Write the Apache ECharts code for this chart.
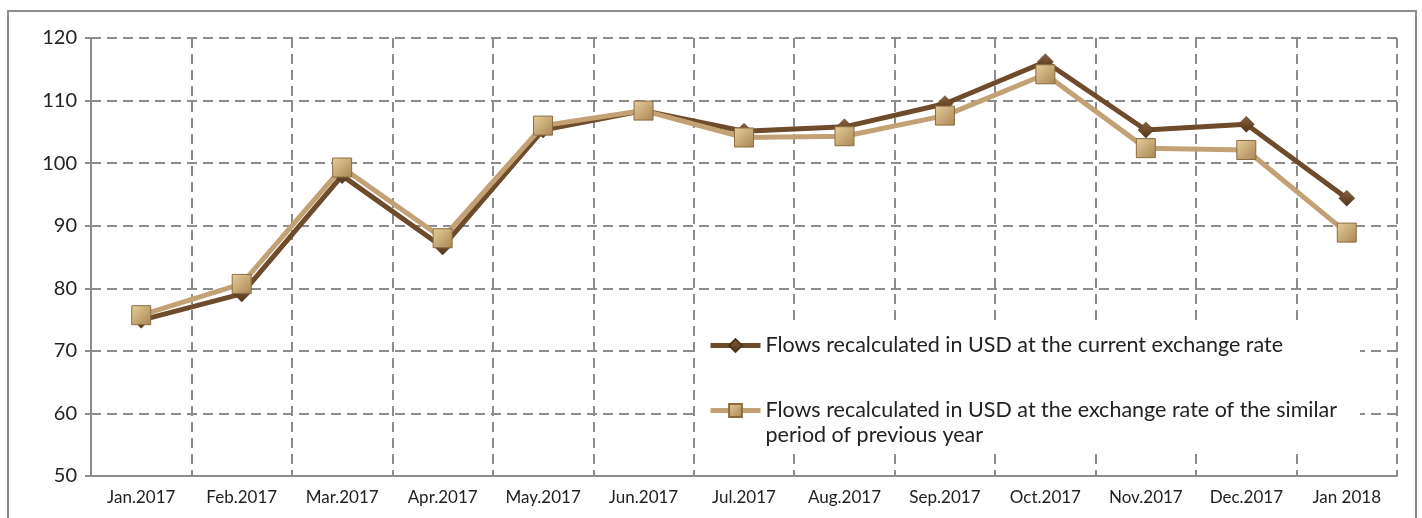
<!DOCTYPE html>
<html><head><meta charset="utf-8">
<script src="https://cdn.jsdelivr.net/npm/echarts@6/dist/echarts.min.js"></script>
<style>html,body{margin:0;padding:0;background:#fff}#c{width:1422px;height:518px}
#frame{position:absolute;left:7px;top:10px;width:1410px;height:520px;border:2px solid #8c8c8c;box-sizing:border-box;pointer-events:none}</style>
</head><body><div id="c"></div><div id="frame"></div>
<script>
const categories = ['Jan.2017','Feb.2017','Mar.2017','Apr.2017','May.2017','Jun.2017','Jul.2017','Aug.2017','Sep.2017','Oct.2017','Nov.2017','Dec.2017','Jan 2018'];
const currentRate = [74.9, 79.1, 98.0, 86.6, 105.3, 108.4, 105.1, 105.8, 109.5, 116.2, 105.3, 106.2, 94.4];
const previousRate = [75.7, 80.7, 99.3, 88.0, 106.0, 108.4, 104.1, 104.3, 107.6, 114.2, 102.4, 102.1, 88.9];
const seriesNames = ['Flows recalculated in USD at the current exchange rate', 'Flows recalculated in USD at the exchange rate of the similar\nperiod of previous year'];
const chart = echarts.init(document.getElementById('c'));
const font = 'Lato, "Open Sans", sans-serif';
chart.setOption({
  animation:false,
  grid:{left:91,right:25,top:38,bottom:42,containLabel:false},
  graphic:[{type:'rect',shape:{x:695,y:323,width:665,height:130},style:{fill:'#fff'},z:1,silent:true}],
  legend:{orient:'vertical',left:708,top:333,padding:0,itemGap:15,itemWidth:50,itemHeight:16,z:5,
    lineStyle:{width:5},
    formatter:function(n){return n===seriesNames[1]?'\n'+n:n;},
    textStyle:{fontFamily:font,fontSize:21.5,color:'#222',lineHeight:25},
    data:seriesNames},
  xAxis:{type:'category',data:categories,boundaryGap:true,
    axisLine:{lineStyle:{color:'#8c8c8c',width:2}},
    axisTick:{show:true,interval:0,length:-6,lineStyle:{color:'#8c8c8c',width:2}},
    axisLabel:{interval:0,fontFamily:font,fontSize:17,color:'#222',margin:13},
    splitLine:{show:true,interval:0,lineStyle:{color:'#8c8c8c',type:[10,6],width:2}}},
  yAxis:{type:'value',min:50,max:120,interval:10,
    axisLine:{show:true,lineStyle:{color:'#8c8c8c',width:2}},
    axisTick:{show:true,length:6,inside:false,lineStyle:{color:'#8c8c8c',width:2}},
    axisLabel:{fontFamily:font,fontSize:20,color:'#222',margin:14},
    splitLine:{show:true,lineStyle:{color:'#8c8c8c',type:[10,6],width:2}}},
  series:[
    {name:seriesNames[0],type:'line',data:currentRate,symbol:'diamond',symbolSize:16,
      lineStyle:{color:'#6e4b2a',width:5},
      itemStyle:{color:new echarts.graphic.LinearGradient(0,0,0,1,[{offset:0,color:'#8a6440'},{offset:1,color:'#4e3218'}]),borderColor:'#4e3218',borderWidth:0.5},z:2},
    {name:seriesNames[1],type:'line',data:previousRate,symbol:'rect',symbolSize:19,
      lineStyle:{color:'#c2a275',width:5},
      itemStyle:{color:new echarts.graphic.LinearGradient(0,0,1,1,[{offset:0,color:'#e6cf9c'},{offset:1,color:'#a88552'}]),borderColor:'#8a6c40',borderWidth:1},z:3}
  ]
});
</script></body></html>
